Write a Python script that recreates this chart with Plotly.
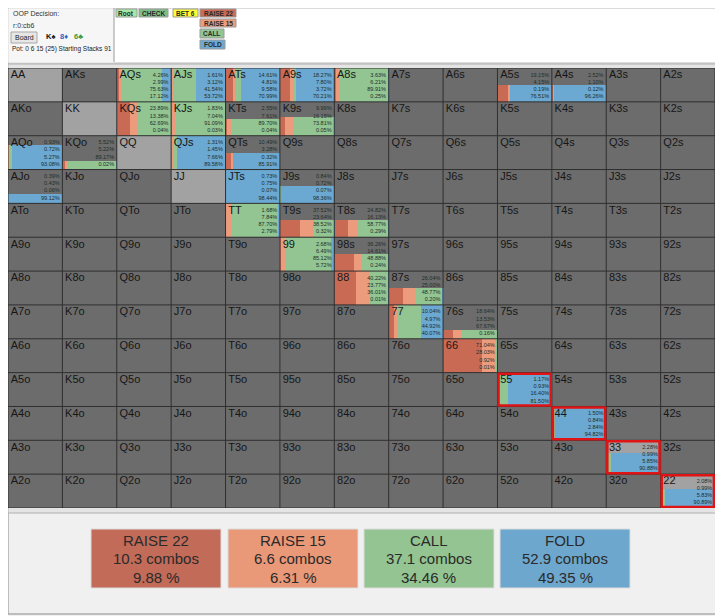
import numpy as np
import plotly.graph_objects as go

# the page body keeps an 8px margin, so the figure starts at (8, 8)
OFF = 8
W, H = 715, 608

ranks = ['A', 'K', 'Q', 'J', 'T', '9', '8', '7', '6', '5', '4', '3', '2']

# summary per action
actions = ['RAISE 22', 'RAISE 15', 'CALL', 'FOLD']
action_colors = ['#c96a55', '#ec9c7c', '#92c592', '#6ba8d2']
box_colors = ['#c26b59', '#e99878', '#93c491', '#6ea7cd']
combos = [10.3, 6.6, 37.1, 52.9]
totals = [9.88, 6.31, 34.46, 49.35]

# strategy per hand (percent of each action) and range weight (bar height)
hands = ['AQs', 'AJs', 'ATs', 'A9s', 'A8s', 'A5s', 'A4s',
         'KQs', 'KJs', 'KTs', 'K9s',
         'AQo', 'KQo', 'QJs', 'QTs',
         'AJo', 'JTs', 'J9s',
         'TT', 'T9s', 'T8s',
         '99', '98s',
         '88', '87s',
         '77', '76s',
         '66', '55', '44', '33', '22']
raise22 = [4.26, 1.61, 14.61, 18.27, 3.63, 19.15, 2.52,
           23.89, 1.83, 2.55, 9.99,
           0.93, 5.52, 1.31, 10.49,
           0.39, 0.73, 0.84,
           1.68, 37.52, 24.82,
           2.68, 36.26,
           40.22, 26.04,
           10.04, 18.64,
           71.04, 1.17, 1.50, 2.28, 2.08]
raise15 = [2.99, 3.12, 4.81, 7.80, 6.21, 4.15, 1.10,
           13.38, 7.04, 7.61, 16.15,
           0.72, 5.22, 1.45, 3.28,
           0.43, 0.75, 0.72,
           7.84, 23.64, 16.13,
           6.49, 14.61,
           23.77, 25.00,
           4.97, 13.53,
           28.03, 0.93, 0.84, 0.99, 0.99]
call = [75.63, 41.54, 9.58, 3.72, 89.91, 0.19, 0.12,
        62.69, 91.09, 89.70, 73.81,
        5.27, 89.17, 7.66, 0.32,
        0.06, 0.07, 0.07,
        87.70, 38.52, 58.77,
        85.12, 48.88,
        36.01, 48.77,
        44.92, 67.67,
        0.92, 16.40, 2.84, 5.85, 5.83]
fold = [17.12, 53.72, 70.99, 70.21, 0.25, 76.51, 96.26,
        0.04, 0.03, 0.04, 0.05,
        93.08, 0.02, 89.58, 85.91,
        99.12, 98.44, 98.36,
        2.79, 0.32, 0.29,
        5.72, 0.24,
        0.01, 0.20,
        40.07, 0.16,
        0.01, 81.50, 94.82, 90.88, 90.89]
weight = [1, 1, 1, 1, 1, 0.5, 0.5,
          1, 1, 0.5, 0.55,
          0.72, 0.25, 1, 0.5,
          0.28, 1, 0.5,
          1, 0.5, 0.5,
          1, 0.5,
          1, 0.5,
          1, 0.27,
          1, 1, 1, 0.62, 0.55]
highlighted = ['55', '44', '33', '22']

header_lines = ['OOP Decision:', 'r:0:cb6']
pot_text = 'Pot: 0 6 15 (25) Starting Stacks 91'
board_cards = ['K♠', '8♦', '6♣']
board_colors = ['#111111', '#2f5fc4', '#3a9a3a']

FONT = 'Liberation Sans, Arial, sans-serif'


def hand_name(r, c):
    if r == c:
        return ranks[r] + ranks[c]
    if r < c:
        return ranks[r] + ranks[c] + 's'
    return ranks[c] + ranks[r] + 'o'


def cell_of(hand):
    a, b = ranks.index(hand[0]), ranks.index(hand[1])
    if len(hand) == 2 or hand[2] == 's':
        return a, b
    return b, a


def px(x):
    return (x - OFF) / W


def py(y):
    return 1 - (y - OFF) / H


rows = np.array([cell_of(h)[0] for h in hands])
cols = np.array([cell_of(h)[1] for h in hands])
w = np.array(weight, dtype=float)
strat = np.array([raise22, raise15, call, fold], dtype=float) / 100.0

fig = go.Figure()

# cell backgrounds: pairs lighter
z = [[1 if r == c else 0 for c in range(13)] for r in range(13)]
fig.add_trace(go.Heatmap(
    z=z, x=np.arange(13) + 0.5, y=np.arange(13) + 0.5,
    colorscale=[[0, '#6c6c6c'], [1, '#a2a2a2']],
    showscale=False, hoverinfo='skip', zmin=0, zmax=1
))

# stacked strategy bars in each cell
start = cols.astype(float).copy()
for k in range(4):
    fig.add_trace(go.Bar(
        x=strat[k], base=start, y=rows + 1 - w / 2, width=w,
        orientation='h', marker=dict(color=action_colors[k], line=dict(width=0)),
        showlegend=False, hoverinfo='skip'
    ))
    start = start + strat[k]

# hand labels
lab_x, lab_y, lab_t = [], [], []
for r in range(13):
    for c in range(13):
        lab_x.append(c + 0.05)
        lab_y.append(r + 0.06)
        lab_t.append(hand_name(r, c))
fig.add_trace(go.Scatter(
    x=lab_x, y=lab_y, text=lab_t, mode='text', textposition='bottom right',
    textfont=dict(family=FONT, size=11, color='#161616'),
    showlegend=False, hoverinfo='skip'
))

# percentages
pct_t = ['<br>'.join(f'{v:.2f}%' for v in vals)
         for vals in zip(raise22, raise15, call, fold)]
fig.add_trace(go.Scatter(
    x=cols + 0.95, y=rows + 0.13, text=pct_t, mode='text',
    textposition='bottom left',
    textfont=dict(family=FONT, size=5.5, color='#1d2d2a'),
    showlegend=False, hoverinfo='skip'
))

shapes = []
# page frames
shapes.append(dict(type='rect', xref='paper', yref='paper', x0=px(8), x1=px(721),
                   y0=py(614), y1=py(8), fillcolor='#f0f0f0',
                   line=dict(color='#8a8a8a', width=1), layer='below'))
shapes.append(dict(type='rect', xref='paper', yref='paper', x0=px(8), x1=px(720),
                   y0=py(63), y1=py(8), fillcolor='#ffffff',
                   line=dict(color='#b8b8b8', width=1), layer='below'))
shapes.append(dict(type='rect', xref='paper', yref='paper', x0=px(8.5), x1=px(114),
                   y0=py(62.5), y1=py(8.5), fillcolor='#f6f6f6',
                   line=dict(width=0), layer='below'))
shapes.append(dict(type='line', xref='paper', yref='paper', x0=px(114), x1=px(114),
                   y0=py(62), y1=py(8), line=dict(color='#9a9a9a', width=1)))
shapes.append(dict(type='rect', xref='paper', yref='paper', x0=px(8), x1=px(720),
                   y0=py(513), y1=py(64), fillcolor='#e4e4e4',
                   line=dict(color='#b0b0b0', width=1), layer='below'))

# grid lines
for i in range(14):
    shapes.append(dict(type='line', xref='x', yref='y', x0=i, x1=i, y0=0, y1=13,
                       line=dict(color='#2f2f2f', width=1)))
    shapes.append(dict(type='line', xref='x', yref='y', x0=0, x1=13, y0=i, y1=i,
                       line=dict(color='#2f2f2f', width=1)))

# highlighted cells
for h in highlighted:
    r, c = cell_of(h)
    shapes.append(dict(type='rect', xref='x', yref='y', x0=c + 0.02, x1=c + 0.98,
                       y0=r + 0.03, y1=r + 0.97, line=dict(color='#e01414', width=2.5)))

annotations = []
# header text
for i, t in enumerate(header_lines):
    annotations.append(dict(x=px(11), y=py(14 + 11 * i), xref='paper', yref='paper',
                            text=t, showarrow=False, xanchor='left', yanchor='middle',
                            font=dict(family=FONT, size=7, color='#333333')))
shapes.append(dict(type='rect', xref='paper', yref='paper', x0=px(11), x1=px(37),
                   y0=py(43), y1=py(32), fillcolor='#e6e6e6',
                   line=dict(color='#a8a8a8', width=1)))
annotations.append(dict(x=px(24), y=py(37.5), xref='paper', yref='paper', text='Board',
                        showarrow=False, xanchor='center', yanchor='middle',
                        font=dict(family=FONT, size=7, color='#222222')))
for i, (card, col) in enumerate(zip(board_cards, board_colors)):
    annotations.append(dict(x=px(44 + 14 * i), y=py(36.5), xref='paper', yref='paper',
                            text='<b>' + card + '</b>', showarrow=False, xanchor='left',
                            yanchor='middle',
                            font=dict(family=FONT, size=7.5, color=col)))
annotations.append(dict(x=px(10), y=py(49), xref='paper', yref='paper', text=pot_text,
                        showarrow=False, xanchor='left', yanchor='middle',
                        font=dict(family=FONT, size=6.5, color='#222222')))

# navigation buttons
buttons = [('Root', 116, 137, 9, 17, '#a4e8a4'),
           ('CHECK', 139, 168, 9, 17, '#7dbe85'),
           ('BET 6', 173, 198, 9, 17, '#ffff33'),
           ('RAISE 22', 200, 236, 9, 17, action_colors[0]),
           ('RAISE 15', 200, 236, 19, 27, action_colors[1]),
           ('CALL', 200, 224, 29, 38, action_colors[2]),
           ('FOLD', 200, 225, 40, 49, action_colors[3])]
for t, x0, x1, y0, y1, col in buttons:
    shapes.append(dict(type='rect', xref='paper', yref='paper', x0=px(x0), x1=px(x1),
                       y0=py(y1), y1=py(y0), fillcolor=col,
                       line=dict(color='#9a9a9a', width=1)))
    annotations.append(dict(x=px((x0 + x1) / 2), y=py((y0 + y1) / 2), xref='paper',
                            yref='paper', text='<b>' + t + '</b>', showarrow=False,
                            xanchor='center', yanchor='middle',
                            font=dict(family=FONT, size=6.5, color='#2a2a2a')))

# summary boxes
box_x = [(91, 221), (228, 358), (364, 494), (500, 630)]
for k in range(4):
    x0, x1 = box_x[k]
    shapes.append(dict(type='rect', xref='paper', yref='paper', x0=px(x0), x1=px(x1),
                       y0=py(588), y1=py(529), fillcolor=box_colors[k],
                       line=dict(color='#dddddd', width=1)))
    lines = [actions[k], f'{combos[k]} combos', f'{totals[k]:.2f} %']
    for j, t in enumerate(lines):
        annotations.append(dict(x=px((x0 + x1) / 2), y=py(540 + 18.5 * j), xref='paper',
                                yref='paper', text=t, showarrow=False,
                                xanchor='center', yanchor='middle',
                                font=dict(family=FONT, size=15, color='#2a2a2a')))

fig.update_layout(
    width=W, height=H,
    margin=dict(l=0, r=0, t=0, b=0),
    paper_bgcolor='#f0f0f0', plot_bgcolor='#6c6c6c',
    barmode='overlay', bargap=0,
    showlegend=False,
    shapes=shapes, annotations=annotations,
    xaxis=dict(range=[0, 13], domain=[px(8), px(715)], visible=False, fixedrange=True),
    yaxis=dict(range=[13, 0], domain=[py(508), py(68)], visible=False, fixedrange=True),
)

fig.write_html("out.html")
